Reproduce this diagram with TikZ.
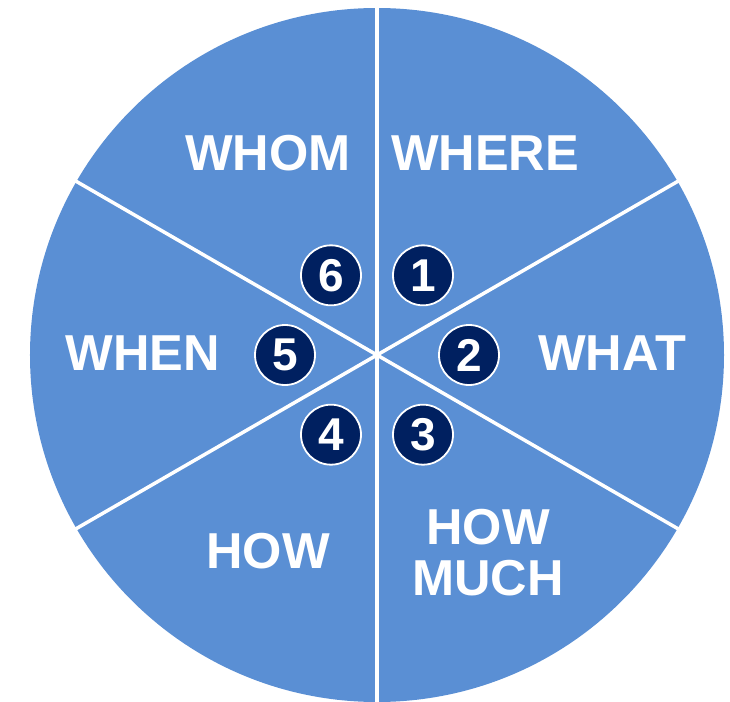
\documentclass[tikz,border=0pt]{standalone}
\usepackage{fontspec}
\setmainfont{Liberation Sans}
\usepackage{tikz}
\usetikzlibrary{positioning,calc}
\definecolor{wheelblue}{HTML}{5A8FD4}
\definecolor{navy}{HTML}{002060}
\tikzset{
  disc/.style={fill=wheelblue,draw=none},
  spoke/.style={draw=white,line width=3.5pt},
  badge/.style={circle,fill=navy,draw=white,line width=1.8pt,minimum size=60pt,inner sep=0pt,text=white,font=\fontsize{46}{46}\selectfont\bfseries},
  word/.style={text=white,align=center,inner sep=0pt,font=\fontsize{50.5}{51}\selectfont\bfseries}
}

\begin{document}
\begin{tikzpicture}[x=1pt,y=1pt]
  \useasboundingbox (-377,-346) rectangle (353,355);
  \begin{scope}
    \clip (-377,-346) rectangle (353,355);
    \coordinate (hub) at (0,0);
    \fill[disc] (hub) circle (347pt);
    % six spokes
    \foreach \a in {90,30,-30,-90,-150,150} {
      \coordinate (rim\a) at (\a:350pt);
      \draw[spoke] (hub) -- (rim\a);
    }
  \end{scope}
  % numbered badges
  \foreach \n/\a in {1/60,2/0,3/-60,4/-120,5/180,6/120}
    \node[badge] (b\n) at (\a:92) {\n};
  % sector words
  \node[word] (where) at (108,202) {WHERE};
  \node[word] (what) at (235,2) {WHAT};
  \node[word] (howmuch) at (111,-198) {HOW\\MUCH};
  \node[word] (how) at (-109,-196) {HOW};
  \node[word] (when) at (-234,2) {WHEN};
  \node[word] (whom) at (-109,202) {WHOM};
\end{tikzpicture}
\end{document}
